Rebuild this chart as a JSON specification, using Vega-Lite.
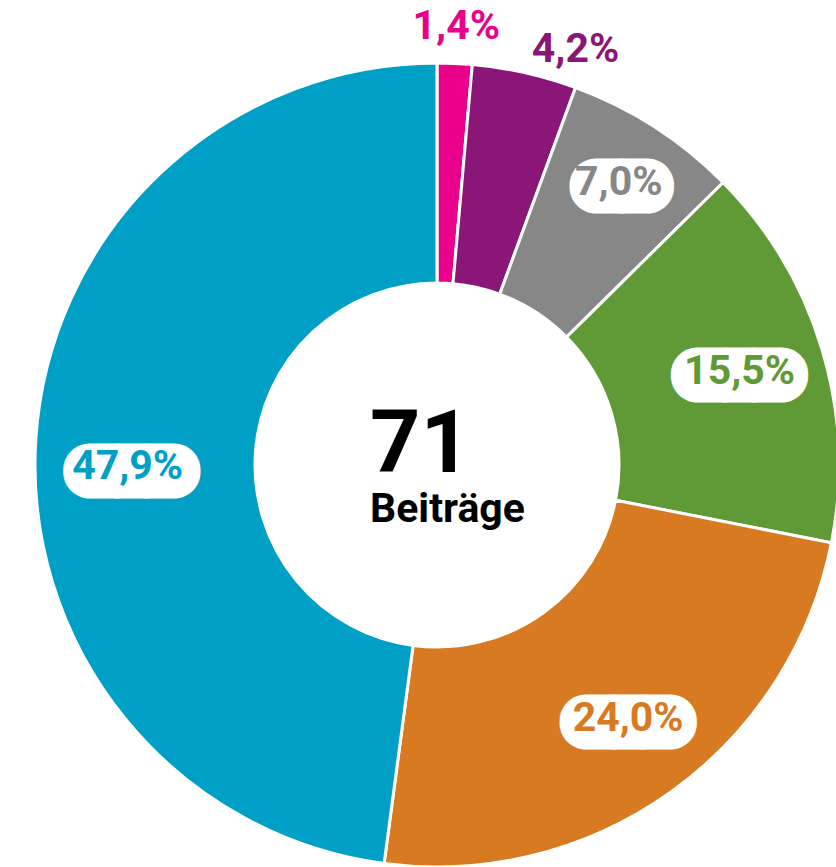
{
  "$schema": "https://vega.github.io/schema/vega-lite/v6.json",
  "width": 874,
  "height": 930,
  "autosize": {"type": "none"},
  "padding": 0,
  "background": "white",
  "config": {"view": {"stroke": null}, "text": {"font": "Roboto"}},
  "datasets": {
    "slices": [
      {"cat": "A", "pct": 1.4, "label": "1,4%", "idx": 1},
      {"cat": "B", "pct": 4.2, "label": "4,2%", "idx": 2},
      {"cat": "C", "pct": 7.0, "label": "7,0%", "idx": 3},
      {"cat": "D", "pct": 15.5, "label": "15,5%", "idx": 4},
      {"cat": "E", "pct": 24.0, "label": "24,0%", "idx": 5},
      {"cat": "F", "pct": 47.9, "label": "47,9%", "idx": 6}
    ],
    "center": [{"n": "71", "t": "Beiträge"}]
  },
  "layer": [
    {
      "data": {"name": "slices"},
      "mark": {"type": "arc", "innerRadius": 182, "outerRadius": 402, "stroke": "white", "strokeWidth": 3},
      "encoding": {
        "theta": {"field": "pct", "type": "quantitative", "stack": true},
        "order": {"field": "idx", "type": "quantitative"},
        "color": {"field": "cat", "type": "nominal", "legend": null,
          "scale": {"domain": ["A", "B", "C", "D", "E", "F"], "range": ["#EB008B", "#8A1677", "#878787", "#5F9A36", "#D87A21", "#00A0C6"]}}
      }
    },
    {
      "data": {"name": "slices"},
      "mark": {"type": "text", "font": "DejaVu Sans", "radius": 316, "dy": 0, "fontSize": 29, "align": "center", "baseline": "middle", "fill": "white", "stroke": "white", "strokeWidth": 53, "strokeJoin": "round", "strokeCap": "round"},
      "encoding": {
        "theta": {"field": "pct", "type": "quantitative", "stack": true},
        "order": {"field": "idx", "type": "quantitative"},
        "text": {"condition": {"test": "datum.idx == 4", "value": "———"}, "value": ""}
      }
    },
    {
      "data": {"name": "slices"},
      "mark": {"type": "text", "radius": 316, "dy": -2, "fontSize": 41, "fontWeight": "bold", "align": "center", "baseline": "middle"},
      "encoding": {
        "theta": {"field": "pct", "type": "quantitative", "stack": true},
        "order": {"field": "idx", "type": "quantitative"},
        "color": {"field": "cat", "type": "nominal", "legend": null,
          "scale": {"domain": ["A", "B", "C", "D", "E", "F"], "range": ["#EB008B", "#8A1677", "#878787", "#5F9A36", "#D87A21", "#00A0C6"]}},
        "text": {"condition": {"test": "datum.idx == 4", "field": "label"}, "value": ""}
      }
    },
    {
      "data": {"name": "slices"},
      "mark": {"type": "text", "font": "DejaVu Sans", "radius": 316, "dx": 7, "dy": -1, "fontSize": 29, "align": "center", "baseline": "middle", "fill": "white", "stroke": "white", "strokeWidth": 53, "strokeJoin": "round", "strokeCap": "round"},
      "encoding": {
        "theta": {"field": "pct", "type": "quantitative", "stack": true},
        "order": {"field": "idx", "type": "quantitative"},
        "text": {"condition": {"test": "datum.idx == 5", "value": "———"}, "value": ""}
      }
    },
    {
      "data": {"name": "slices"},
      "mark": {"type": "text", "radius": 316, "dx": 7, "dy": -3, "fontSize": 41, "fontWeight": "bold", "align": "center", "baseline": "middle"},
      "encoding": {
        "theta": {"field": "pct", "type": "quantitative", "stack": true},
        "order": {"field": "idx", "type": "quantitative"},
        "color": {"field": "cat", "type": "nominal", "legend": null,
          "scale": {"domain": ["A", "B", "C", "D", "E", "F"], "range": ["#EB008B", "#8A1677", "#878787", "#5F9A36", "#D87A21", "#00A0C6"]}},
        "text": {"condition": {"test": "datum.idx == 5", "field": "label"}, "value": ""}
      }
    },
    {
      "data": {"name": "slices"},
      "mark": {"type": "text", "font": "DejaVu Sans", "radius": 336, "dx": 3, "dy": 3, "fontSize": 27, "align": "center", "baseline": "middle", "fill": "white", "stroke": "white", "strokeWidth": 53, "strokeJoin": "round", "strokeCap": "round"},
      "encoding": {
        "theta": {"field": "pct", "type": "quantitative", "stack": true},
        "order": {"field": "idx", "type": "quantitative"},
        "text": {"condition": {"test": "datum.idx == 3", "value": "——"}, "value": ""}
      }
    },
    {
      "data": {"name": "slices"},
      "mark": {"type": "text", "radius": 336, "dy": 1, "fontSize": 41, "fontWeight": "bold", "align": "center", "baseline": "middle"},
      "encoding": {
        "theta": {"field": "pct", "type": "quantitative", "stack": true},
        "order": {"field": "idx", "type": "quantitative"},
        "color": {"field": "cat", "type": "nominal", "legend": null,
          "scale": {"domain": ["A", "B", "C", "D", "E", "F"], "range": ["#EB008B", "#8A1677", "#878787", "#5F9A36", "#D87A21", "#00A0C6"]}},
        "text": {"condition": {"test": "datum.idx == 3", "field": "label"}, "value": ""}
      }
    },
    {
      "data": {"name": "slices"},
      "mark": {"type": "text", "font": "DejaVu Sans", "radius": 318, "dx": 12, "dy": 26, "fontSize": 29, "align": "center", "baseline": "middle", "fill": "white", "stroke": "white", "strokeWidth": 53, "strokeJoin": "round", "strokeCap": "round"},
      "encoding": {
        "theta": {"field": "pct", "type": "quantitative", "stack": true},
        "order": {"field": "idx", "type": "quantitative"},
        "text": {"condition": {"test": "datum.idx == 6", "value": "———"}, "value": ""}
      }
    },
    {
      "data": {"name": "slices"},
      "mark": {"type": "text", "radius": 318, "dx": 8, "dy": 23, "fontSize": 41, "fontWeight": "bold", "align": "center", "baseline": "middle"},
      "encoding": {
        "theta": {"field": "pct", "type": "quantitative", "stack": true},
        "order": {"field": "idx", "type": "quantitative"},
        "color": {"field": "cat", "type": "nominal", "legend": null,
          "scale": {"domain": ["A", "B", "C", "D", "E", "F"], "range": ["#EB008B", "#8A1677", "#878787", "#5F9A36", "#D87A21", "#00A0C6"]}},
        "text": {"condition": {"test": "datum.idx == 6", "field": "label"}, "value": ""}
      }
    },
    {
      "data": {"name": "slices"},
      "mark": {"type": "text", "radius": 438, "fontSize": 41, "fontWeight": "bold", "align": "center", "baseline": "middle"},
      "encoding": {
        "theta": {"field": "pct", "type": "quantitative", "stack": true},
        "order": {"field": "idx", "type": "quantitative"},
        "color": {"field": "cat", "type": "nominal", "legend": null,
          "scale": {"domain": ["A", "B", "C", "D", "E", "F"], "range": ["#EB008B", "#8A1677", "#878787", "#5F9A36", "#D87A21", "#00A0C6"]}},
        "text": {"condition": {"test": "datum.idx == 1", "field": "label"}, "value": ""}
      }
    },
    {
      "data": {"name": "slices"},
      "mark": {"type": "text", "radius": 438, "dx": 43, "dy": 12, "fontSize": 41, "fontWeight": "bold", "align": "center", "baseline": "middle"},
      "encoding": {
        "theta": {"field": "pct", "type": "quantitative", "stack": true},
        "order": {"field": "idx", "type": "quantitative"},
        "color": {"field": "cat", "type": "nominal", "legend": null,
          "scale": {"domain": ["A", "B", "C", "D", "E", "F"], "range": ["#EB008B", "#8A1677", "#878787", "#5F9A36", "#D87A21", "#00A0C6"]}},
        "text": {"condition": {"test": "datum.idx == 2", "field": "label"}, "value": ""}
      }
    },
    {
      "data": {"name": "center"},
      "mark": {"type": "text", "fontSize": 88, "fontWeight": "bold", "align": "left", "baseline": "alphabetic", "dx": -67, "dy": 7, "color": "#000000"},
      "encoding": {"text": {"field": "n"}}
    },
    {
      "data": {"name": "center"},
      "mark": {"type": "text", "fontSize": 41, "fontWeight": "bold", "align": "left", "baseline": "alphabetic", "dx": -67, "dy": 57, "color": "#000000"},
      "encoding": {"text": {"field": "t"}}
    }
  ]
}
